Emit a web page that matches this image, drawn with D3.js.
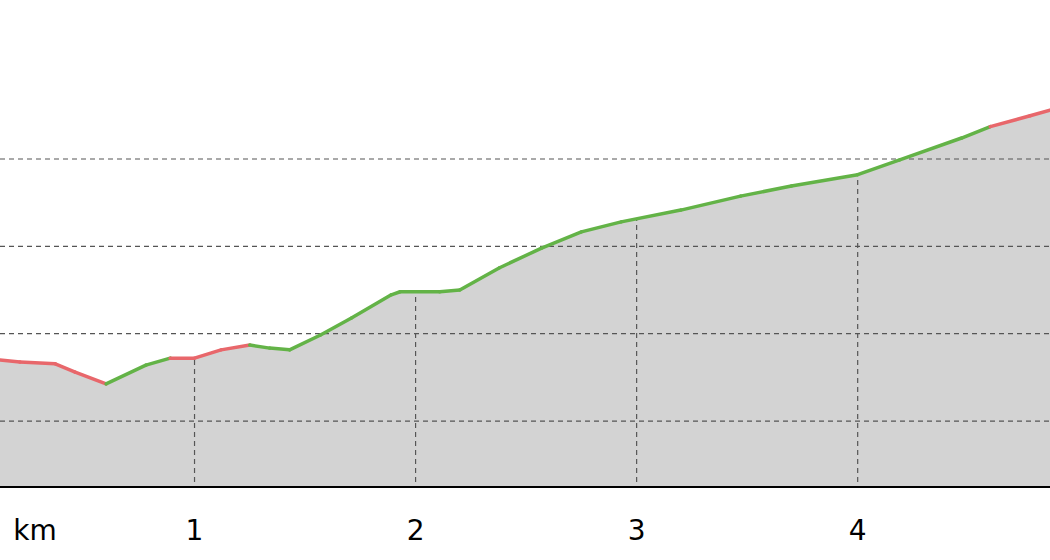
<!DOCTYPE html>
<html><head><meta charset="utf-8">
<script src="https://cdn.jsdelivr.net/npm/d3@7"></script>
<style>body{margin:0;background:#fff}svg{display:block}</style>
</head><body>
<svg id="c" width="1050" height="560"></svg>
<script>
const distKm = [0.12,0.21,0.37,0.46,0.60,0.78,0.89,1.00,1.12,1.25,1.34,1.43,1.57,1.71,1.89,1.93,2.11,2.20,2.38,2.57,2.75,2.93,3.20,3.47,3.70,4.00,4.19,4.47,4.60,4.78,4.87];
const elevation = [574.0,573.5,573.1,571.2,568.5,572.8,574.4,574.4,576.3,577.4,576.7,576.3,579.7,583.6,588.9,589.6,589.6,590.0,595.1,599.6,603.3,605.6,608.3,611.5,613.8,616.4,619.8,624.8,627.4,629.9,631.2];
// segment class: 1 = red, 0 = green
const segClass = [1,1,1,1,0,0,1,1,1,0,0,0,0,0,0,0,0,0,0,0,0,0,0,0,0,0,0,0,1,1];
const gridElev = [560,580,600,620];
const tickKm = [1,2,3,4];
const tickLabels = ["1","2","3","4"];

const svg = d3.select("#c");
const x = d3.scaleLinear().domain([0.12,4.87]).range([0,1050]);
const y = d3.scaleLinear().domain([544.9,656.4]).range([487,0]);
const pts = distKm.map((d,i)=>[d,elevation[i]]);

const area = d3.area().x(d=>x(d[0])).y0(y(544.9)).y1(d=>y(d[1]));
svg.append("defs").append("clipPath").attr("id","ac").append("path").attr("d",area(pts));
svg.append("path").attr("d",area(pts)).attr("fill","#d3d3d3");

svg.selectAll(".hg").data(gridElev).enter().append("line")
 .attr("x1",0).attr("x2",1050).attr("y1",d=>y(d)).attr("y2",d=>y(d))
 .attr("stroke","#555").attr("stroke-width",1.2).attr("stroke-dasharray","5,4");
svg.append("g").attr("clip-path","url(#ac)").selectAll("line").data(tickKm).enter().append("line")
 .attr("x1",d=>x(d)).attr("x2",d=>x(d)).attr("y1",0).attr("y2",487)
 .attr("stroke","#555").attr("stroke-width",1.2).attr("stroke-dasharray","5,4");

const line = d3.line().x(d=>x(d[0])).y(d=>y(d[1]));
segClass.forEach((c,i)=>{
  svg.append("path").attr("d",line([pts[i],pts[i+1]])).attr("fill","none")
   .attr("stroke",c?"#e8676b":"#63b347").attr("stroke-width",3.5).attr("stroke-linecap","round");
});

svg.append("line").attr("x1",0).attr("x2",1050).attr("y1",487).attr("y2",487).attr("stroke","#000").attr("stroke-width",2);
svg.selectAll(".tl").data(tickKm).enter().append("text")
 .attr("x",d=>x(d)).attr("y",540).attr("text-anchor","middle")
 .attr("font-family","DejaVu Sans").attr("font-size",28).text((d,i)=>tickLabels[i]);
svg.append("text").attr("x",35).attr("y",540).attr("text-anchor","middle")
 .attr("font-family","DejaVu Sans").attr("font-size",28).text("km");
</script>
</body></html>
